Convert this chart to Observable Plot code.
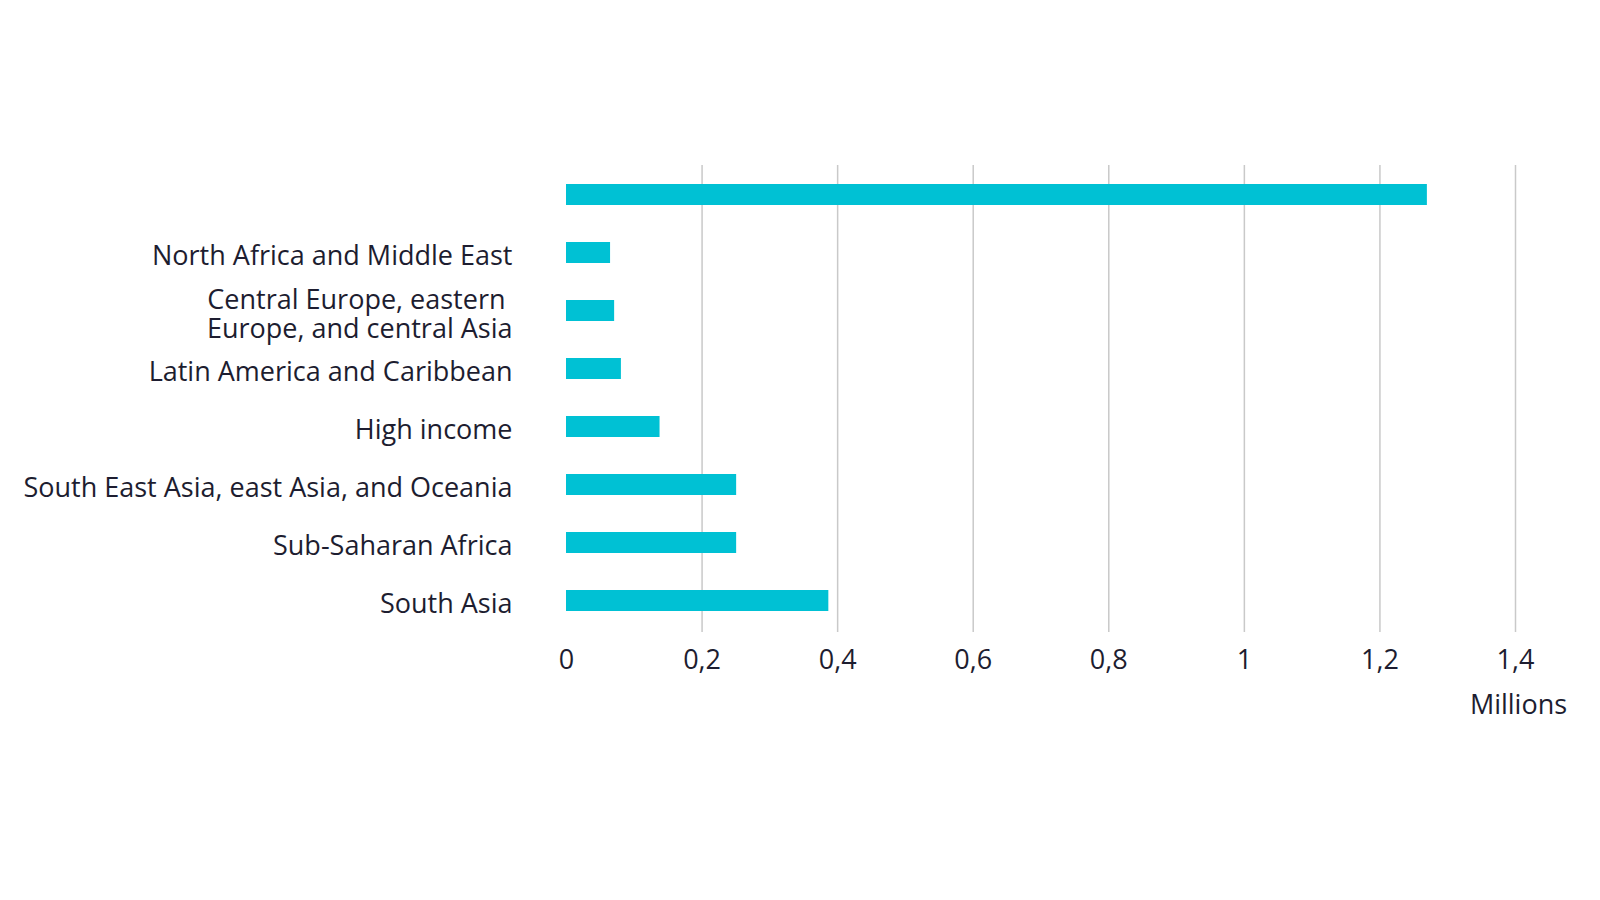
<!DOCTYPE html>
<html>
<head>
<meta charset="utf-8">
<script src="https://cdn.jsdelivr.net/npm/d3@7"></script>
<script src="https://cdn.jsdelivr.net/npm/@observablehq/plot@0.6"></script>
<style>
  html, body { margin: 0; padding: 0; background: #ffffff; }
  #chart { width: 1600px; height: 900px; }
</style>
</head>
<body>
<div id="chart"></div>
<script>
const categories = [
  "",
  "North Africa and Middle East",
  "Central Europe, eastern \nEurope, and central Asia",
  "Latin America and Caribbean",
  "High income",
  "South East Asia, east Asia, and Oceania",
  "Sub-Saharan Africa",
  "South Asia"
];
const values = [1.27, 0.065, 0.071, 0.081, 0.138, 0.251, 0.251, 0.387];
const xTicks = [0, 0.2, 0.4, 0.6, 0.8, 1, 1.2, 1.4];
const gridTicks = [0.2, 0.4, 0.6, 0.8, 1, 1.2, 1.4];
const unitLabel = ["Millions"];

const data = categories.map((c, i) => ({category: c, value: values[i]}));

const textColor = "#1d1d30";
const barColor = "#00c1d4";

const chart = Plot.plot({
  width: 1600,
  height: 900,
  marginLeft: 566,
  marginRight: 85,
  marginTop: 145,
  marginBottom: 250,
  style: {
    fontFamily: "'Open Sans', sans-serif",
    fontSize: "27px",
    color: textColor,
    background: "#ffffff"
  },
  x: {domain: [0, 1.4], axis: null},
  y: {domain: categories, padding: 0.63, axis: null},
  marks: [
    Plot.ruleX(gridTicks, {x: d => d, stroke: "#c9c9c9", strokeWidth: 1.5, insetTop: 20, insetBottom: 18}),
    Plot.barX(data, {x: "value", y: "category", fill: barColor}),
    Plot.axisY({
      tickSize: 0,
      tickPadding: 54,
      fontSize: 27,
      lineHeight: 1.08,
      dy: 3,
      fill: textColor,
      label: null
    }),
    Plot.axisX({
      ticks: xTicks,
      tickSize: 0,
      tickPadding: -1,
      fontSize: 27,
      fill: textColor,
      tickFormat: d => String(d).replace(".", ","),
      label: null
    }),
    Plot.text(unitLabel, {
      x: () => 1.4,
      frameAnchor: "bottom",
      text: d => d,
      dx: 3,
      dy: 63,
      fontSize: 27,
      fill: textColor
    })
  ]
});

document.getElementById("chart").appendChild(chart);
</script>
</body>
</html>
